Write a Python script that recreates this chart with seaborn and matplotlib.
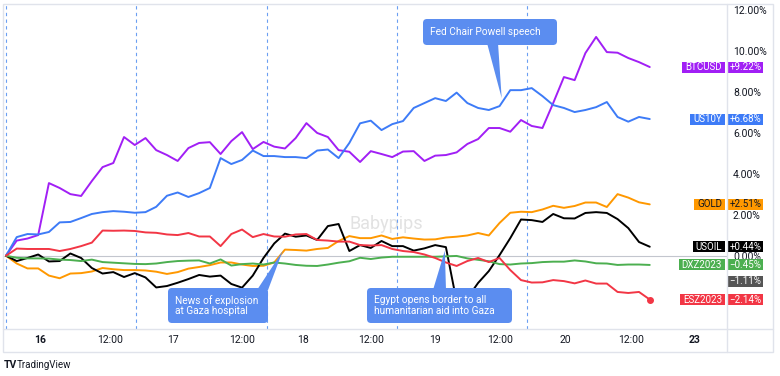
import pandas as pd
import seaborn as sns
import matplotlib.pyplot as plt
from matplotlib.patches import FancyBboxPatch, Polygon, Rectangle
from matplotlib.lines import Line2D
from matplotlib.transforms import Affine2D

# percent change from the start, one point every ~2 hours
symbols = ['BTCUSD', 'US10Y', 'GOLD', 'USOIL', 'DXZ2023', 'ESZ2023']

btc = [0.00, 0.74, 0.84, 1.01, 3.55, 3.31, 3.01, 2.92, 3.65, 4.33,
       4.53, 5.80, 5.41, 5.75, 5.16, 4.92, 4.63, 5.26, 5.51, 5.55,
       4.97, 5.60, 6.04, 5.21, 5.56, 5.33, 5.24, 5.75, 6.48, 6.00,
       5.80, 5.16, 5.08, 4.58, 5.11, 4.97, 4.82, 5.09, 5.11, 4.63,
       4.89, 4.92, 5.05, 5.46, 5.70, 6.24, 6.24, 6.06, 6.63, 6.34,
       6.24, 7.46, 8.73, 8.58, 9.90, 10.69, 9.95, 9.92, 9.66, 9.46,
       9.22]
us10y = [0.00, 0.91, 1.06, 1.04, 1.16, 1.63, 1.65, 1.84, 2.04, 2.13,
         2.18, 2.15, 2.10, 2.13, 2.39, 2.93, 3.09, 2.87, 3.06, 3.31,
         4.77, 4.48, 4.68, 5.14, 4.87, 4.87, 4.82, 4.82, 4.77, 5.14,
         5.19, 4.77, 5.51, 6.47, 6.60, 6.14, 6.43, 6.58, 7.22, 7.46,
         7.70, 7.56, 7.97, 7.46, 7.22, 7.12, 7.31, 8.09, 8.09, 8.19,
         7.80, 7.36, 7.22, 7.02, 7.12, 7.26, 7.51, 6.78, 6.55, 6.78,
         6.68]
gold = [0.00, -0.38, -0.62, -0.62, -0.97, -1.10, -0.87, -0.85, -0.77, -0.60,
        -0.66, -0.70, -0.70, -0.72, -0.78, -0.89, -0.80, -0.63, -0.55, -0.46,
        -0.33, -0.33, -0.43, -0.50, -0.49, -0.33, 0.30, 0.28, 0.25, 0.33,
        0.38, 0.72, 0.96, 0.86, 0.86, 0.99, 0.82, 0.90, 0.84, 0.79,
        0.80, 0.89, 0.93, 0.99, 1.11, 0.99, 1.60, 2.10, 2.15, 2.13,
        2.26, 2.44, 2.34, 2.43, 2.60, 2.60, 2.38, 3.01, 2.84, 2.61,
        2.51]
usoil = [0.00, -0.26, -0.11, 0.06, -0.28, -0.26, 0.11, -0.11, -0.60, -0.87,
         -0.80, -1.04, -0.85, -1.06, -1.55, -1.48, -1.32, -1.14, -0.94, -1.02,
         -0.97, -1.38, -1.56, -0.97, -0.11, 0.60, 1.08, 0.93, 0.99, 0.77,
         1.45, 1.55, 0.23, 0.52, 0.38, 0.72, 0.47, 0.47, 0.25, 0.36,
         0.52, 0.42, -2.24, -2.07, -1.33, -0.75, 0.03, 0.86, 1.77, 1.74,
         1.65, 2.04, 1.83, 1.82, 2.09, 2.13, 2.09, 1.79, 1.35, 0.67,
         0.44]
dxz = [0.00, -0.10, -0.13, -0.13, -0.14, -0.19, -0.21, -0.26, -0.19, -0.31,
       -0.34, -0.37, -0.40, -0.41, -0.38, -0.31, -0.26, -0.24, -0.23, -0.38,
       -0.18, -0.48, -0.41, -0.38, -0.43, -0.33, -0.38, -0.45, -0.49, -0.50,
       -0.43, -0.34, -0.27, -0.10, -0.16, -0.09, -0.05, -0.05, -0.05, -0.05,
       -0.05, -0.03, -0.01, -0.13, -0.20, -0.27, -0.41, -0.43, -0.38, -0.36,
       -0.31, -0.29, -0.29, -0.23, -0.28, -0.37, -0.38, -0.45, -0.43, -0.43,
       -0.45]
esz = [0.00, 0.35, 0.33, 0.33, 0.33, 0.23, 0.33, 0.47, 0.64, 1.23,
       1.22, 1.23, 1.21, 1.14, 1.12, 1.04, 1.01, 1.11, 0.94, 0.94,
       0.47, 1.06, 1.28, 0.91, 1.06, 0.94, 0.93, 1.04, 1.06, 0.77,
       0.74, 0.69, 0.69, 0.52, 0.50, 0.52, 0.33, 0.23, 0.18, 0.06,
       -0.11, -0.33, -0.50, -0.26, -0.11, -0.31, -0.11, -0.70, -1.19, -1.31,
       -1.30, -1.19, -1.24, -1.35, -1.21, -1.36, -1.36, -1.77, -1.82, -1.77,
       -2.14]
series = [btc, us10y, gold, usoil, dxz, esz]
extra_value = -1.11  # grey scale label with no visible line

tick_labels = ['16', '12:00', '17', '12:00', '18', '12:00', '19', '12:00', '20', '12:00', '23']
tick_pos = [3.17, 9.69, 15.56, 22.0, 27.68, 34.0, 39.98, 46.04, 52.1, 58.25, 64.2]
session_breaks = [0, 12.12, 24.3, 36.4, 48.6]
y_ticks = [0, 2, 4, 6, 8, 10, 12]

callout_texts = ['News of explosion\nat Gaza hospital',
                 'Egypt opens border to all\nhumanitarian aid into Gaza',
                 'Fed Chair Powell speech']
callout_points = [(25.8, 0.24), (40.9, 0.24), (46.2, 7.70)]

palette = {'BTCUSD': '#a11ff5', 'US10Y': '#3d7bf7', 'GOLD': '#ff9800',
           'USOIL': '#000000', 'DXZ2023': '#4caf50', 'ESZ2023': '#f23645'}
tag_fg = {'BTCUSD': 'white', 'US10Y': 'white', 'GOLD': '#131722',
          'USOIL': 'white', 'DXZ2023': 'white', 'ESZ2023': 'white'}

df = pd.concat([pd.DataFrame({'step': range(len(v)), 'symbol': s, 'pct': v})
                for s, v in zip(symbols, series)], ignore_index=True)

sns.set_theme(style='white')
plt.rcParams['font.family'] = ['Roboto', 'DejaVu Sans']

W, H = 780, 376
fig = plt.figure(figsize=(W / 100, H / 100), dpi=100)
ax = fig.add_axes([3 / W, 1 - 329 / H, 724 / W, 325 / H])
pix = Affine2D().scale(1, -1).translate(0, H)  # pixel coords, y down

for xb in session_breaks:
    ax.axvline(xb, color='#6b9ff2', lw=0.8, ls=(0, (3, 3)), zorder=1)
ax.axhline(0, color='#c3c6ce', lw=0.8, zorder=1)
ax.text(386, 224, 'Babypips', transform=pix, ha='center', va='center',
        fontsize=13, color='#e2e2e2', zorder=0)

sns.lineplot(data=df, x='step', y='pct', hue='symbol', hue_order=symbols,
             palette=palette, linewidth=1.4, legend=False, ax=ax, zorder=3)
ax.plot(len(esz) - 1, esz[-1], 'o', color=palette['ESZ2023'], ms=4, zorder=4)

ax.set_xlim(-0.28, 67.2)
ax.set_ylim(-3.58, 12.30)
ax.set_xlabel('')
ax.set_ylabel('')
ax.set_xticks(tick_pos, tick_labels)
for lab in ax.get_xticklabels():
    if lab.get_text() in ('16', '23'):
        lab.set_fontweight('bold')
ax.tick_params(axis='x', length=0, pad=4.3, labelsize=7.5, colors='#131722')
ax.yaxis.tick_right()
ax.set_yticks(y_ticks, [f'{v:.2f}%' for v in y_ticks])
ax.tick_params(axis='y', length=0, pad=4.3, labelsize=7.5, colors='#131722')
for s in ax.spines.values():
    s.set_visible(False)

# frame of the panes
edge = '#e0e3eb'
fig.add_artist(Rectangle((3, 4), 770, 348, fill=False, ec=edge, lw=1, transform=pix))
fig.add_artist(Line2D([727, 727], [4, 352], color=edge, lw=1, transform=pix))
fig.add_artist(Line2D([3, 773], [329, 329], color=edge, lw=1, transform=pix))

renderer = fig.canvas.get_renderer()


def to_pix(x, y):
    dx, dy = ax.transData.transform((x, y))
    return dx, H - dy


# last value tags on the price scale
last = len(btc) - 1
for name, vals in zip(symbols, series):
    _, cy = to_pix(last, vals[-1])
    col = palette[name]
    fig.add_artist(Rectangle((728, cy - 5.5), 35, 11, fc=col, ec='none', transform=pix))
    fig.text(745.5, cy, f'{vals[-1]:+.2f}%'.replace('-', '\u2212'), transform=pix,
             ha='center', va='center', fontsize=7, color=tag_fg[name])
    t = fig.text(722, cy, name, transform=pix, ha='right', va='center',
                 fontsize=7, color=tag_fg[name], zorder=4)
    bb = t.get_window_extent(renderer)
    fig.add_artist(Rectangle((bb.x0 - 3, cy - 5.5), 725 - bb.x0 + 3, 11,
                             fc=col, ec='none', transform=pix))
_, cy = to_pix(last, extra_value)
cy += 3
fig.add_artist(Rectangle((728, cy - 5.5), 35, 11, fc='#555555', ec='none', transform=pix))
fig.text(745.5, cy, f'{extra_value:.2f}%'.replace('-', '\u2212'), transform=pix,
         ha='center', va='center', fontsize=7, color='white')

# callouts
boxes = [(168, 288, 100, 35), (367, 288, 145, 35), (423, 19, 134, 26)]
bases = [(257, 268, 290), (433, 446, 290), (487, 498, 43)]
blue = '#5b8df0'
for text, pt, (bx, by, bw, bh), (b0, b1, byy) in zip(callout_texts, callout_points, boxes, bases):
    tx, ty = to_pix(*pt)
    fig.add_artist(Polygon([(b0, byy), (b1, byy), (tx, ty)], closed=True,
                           fc=blue, ec='none', transform=pix))
    fig.add_artist(FancyBboxPatch((bx, by), bw, bh,
                                  boxstyle='round,pad=0,rounding_size=4',
                                  fc=blue, ec='none', transform=pix))
    fig.text(bx + 7, by + bh / 2, text, transform=pix, ha='left', va='center',
             fontsize=7.3, color='white', linespacing=1.1, zorder=5)

# branding
fig.text(4, 365, 'TV', transform=pix, ha='left', va='center', fontsize=7.5,
         fontweight='bold', color='#131722')
fig.text(17, 365, 'TradingView', transform=pix, ha='left', va='center',
         fontsize=7, color='#131722')

fig.savefig('out.png', dpi=100, facecolor='white')
